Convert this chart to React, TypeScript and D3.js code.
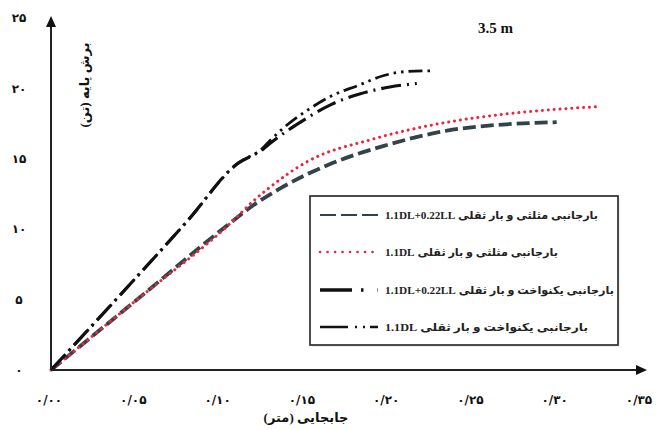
import React from "react";
import * as d3 from "d3";

// displacement (m) / base shear (ton)
const triLLDisp = [0, 0.05, 0.108, 0.12, 0.136, 0.167, 0.197, 0.235, 0.27, 0.3];
const triLLShear = [0, 4.9, 10.6, 11.7, 12.9, 14.7, 15.9, 17.0, 17.45, 17.6];

const triDLDisp = [0, 0.05, 0.108, 0.12, 0.128, 0.152, 0.191, 0.235, 0.271, 0.31, 0.324];
const triDLShear = [0, 4.9, 10.6, 12.0, 12.8, 14.8, 16.4, 17.6, 18.2, 18.6, 18.7];

const uniLLDisp = [0, 0.05, 0.081, 0.11, 0.126, 0.13, 0.148, 0.167, 0.183, 0.201, 0.217];
const uniLLShear = [0, 6.5, 10.6, 14.6, 15.7, 16.1, 17.6, 18.9, 19.6, 20.1, 20.35];

const uniDLDisp = [0, 0.05, 0.081, 0.11, 0.126, 0.13, 0.14, 0.154, 0.167, 0.182, 0.197, 0.211, 0.227];
const uniDLShear = [0, 6.5, 10.6, 14.6, 15.8, 16.3, 17.4, 18.6, 19.5, 20.2, 20.9, 21.2, 21.25];

const xTicks = [0, 0.05, 0.1, 0.15, 0.2, 0.25, 0.3, 0.35];
const xTickLabels = ["۰/۰۰", "۰/۰۵", "۰/۱۰", "۰/۱۵", "۰/۲۰", "۰/۲۵", "۰/۳۰", "۰/۳۵"];
const yTicks = [0, 5, 10, 15, 20, 25];
const yTickLabels = ["۰", "۵", "۱۰", "۱۵", "۲۰", "۲۵"];

const legendLabels = [
  "بارجانبی مثلثی و بار ثقلی 1.1DL+0.22LL",
  "بارجانبی مثلثی و بار ثقلی 1.1DL",
  "بارجانبی یکنواخت و بار ثقلی 1.1DL+0.22LL",
  "بارجانبی یکنواخت و بار ثقلی 1.1DL",
];

const W = 660;
const H = 430;

const x = d3.scaleLinear().domain([0, 0.35]).range([51, 641]);
const y = d3.scaleLinear().domain([0, 25]).range([370, 18]);

const persian = "'Liberation Serif', 'DejaVu Sans', serif";

const series = [
  { xs: triLLDisp, ys: triLLShear, stroke: "#34434a", width: 3.8, dash: "13 5", cap: "butt" },
  { xs: triDLDisp, ys: triDLShear, stroke: "#e8283e", width: 3, dash: "0.1 5.8", cap: "round" },
  { xs: uniLLDisp, ys: uniLLShear, stroke: "#111", width: 3.2, dash: "20 6 2 6", cap: "butt" },
  { xs: uniDLDisp, ys: uniDLShear, stroke: "#111", width: 2.8, dash: "14 5 2.5 5 2.5 5", cap: "butt" },
];

const legendSamples = [
  { stroke: "#34434a", width: 2, dash: "16 5" },
  { stroke: "#e8283e", width: 2.6, dash: "0.1 7.4", cap: "round" },
  { stroke: "#111", width: 3.4, dash: "32 9 2.5 14 2.5 30" },
  { stroke: "#111", width: 2.6, dash: "28 7 2 6 2 5 10 40" },
];
const legendRowsY = [215, 252, 290, 327];
const legendTextLen = [213, 173, 229, 203];

function curve(xs: number[], ys: number[]) {
  return d3
    .line<number>()
    .x((_, i) => x(xs[i]))
    .y((_, i) => y(ys[i]))
    .curve(d3.curveMonotoneX)(xs) as string;
}

export default function App() {
  const x0 = x(0);
  const y0 = y(0);
  const xEnd = 647;
  const yTop = 16;

  return (
    <svg
      width={W}
      height={H}
      style={{ position: "absolute", left: 0, top: 0, background: "#fff" }}
    >
      {/* curves */}
      {series.map((s, i) => (
        <path
          key={i}
          d={curve(s.xs, s.ys)}
          fill="none"
          stroke={s.stroke}
          strokeWidth={s.width}
          strokeDasharray={s.dash}
          strokeLinecap={s.cap as any}
        />
      ))}

      {/* axes with arrows */}
      <line x1={x0} y1={y0} x2={xEnd - 8} y2={y0} stroke="#222" strokeWidth={2} />
      <path d={`M${xEnd},${y0} L${xEnd - 11},${y0 - 5} L${xEnd - 11},${y0 + 5} Z`} fill="#111" />
      <line x1={x0} y1={y0} x2={x0} y2={yTop + 8} stroke="#222" strokeWidth={2} />
      <path d={`M${x0},${yTop} L${x0 - 5},${yTop + 11} L${x0 + 5},${yTop + 11} Z`} fill="#111" />

      {/* tick labels */}
      {xTicks.map((t, i) => (
        <text
          key={t}
          x={x(t) - 2}
          y={404}
          textAnchor="middle"
          fontFamily="'DejaVu Sans', sans-serif"
          fontWeight="bold"
          fontSize={12}
          fill="#111"
        >
          {xTickLabels[i]}
        </text>
      ))}
      {yTicks.map((t, i) => (
        <text
          key={t}
          x={19}
          y={y(t)}
          dy="0.35em"
          textAnchor="middle"
          fontFamily="'DejaVu Sans', sans-serif"
          fontWeight="bold"
          fontSize={12}
          fill="#111"
        >
          {yTickLabels[i]}
        </text>
      ))}

      {/* axis titles */}
      <text
        x={306}
        y={422}
        textAnchor="middle"
        direction="rtl"
        fontFamily={persian}
        fontWeight="bold"
        fontSize={13}
        fill="#111"
      >
        جابجایی (متر)
      </text>
      <text
        transform="translate(89,85) rotate(-90)"
        textAnchor="middle"
        direction="rtl"
        fontFamily={persian}
        fontWeight="bold"
        fontSize={13}
        fill="#111"
      >
        برش پایه (تن)
      </text>

      {/* panel title */}
      <text
        x={478}
        y={33}
        fontFamily="'Liberation Serif', serif"
        fontWeight="bold"
        fontSize={15}
        fill="#111"
      >
        3.5 m
      </text>

      {/* legend */}
      <rect x={312} y={198} width={308} height={149} fill="#ddd" opacity={0.5} />
      <rect x={310} y={196} width={308} height={149} fill="#fff" stroke="#222" strokeWidth={1.6} />
      {legendLabels.map((lab, i) => (
        <g key={i}>
          <line
            x1={320}
            x2={378}
            y1={legendRowsY[i]}
            y2={legendRowsY[i]}
            stroke={legendSamples[i].stroke}
            strokeWidth={legendSamples[i].width}
            strokeDasharray={legendSamples[i].dash}
            strokeLinecap={(legendSamples[i].cap || "butt") as any}
          />
          <text
            x={385}
            y={legendRowsY[i]}
            dy="0.35em"
            direction="rtl"
            textAnchor="end"
            textLength={legendTextLen[i]}
            lengthAdjust="spacingAndGlyphs"
            fontFamily={persian}
            fontWeight="bold"
            fontSize={11}
            fill="#222"
          >
            {lab}
          </text>
        </g>
      ))}
    </svg>
  );
}
